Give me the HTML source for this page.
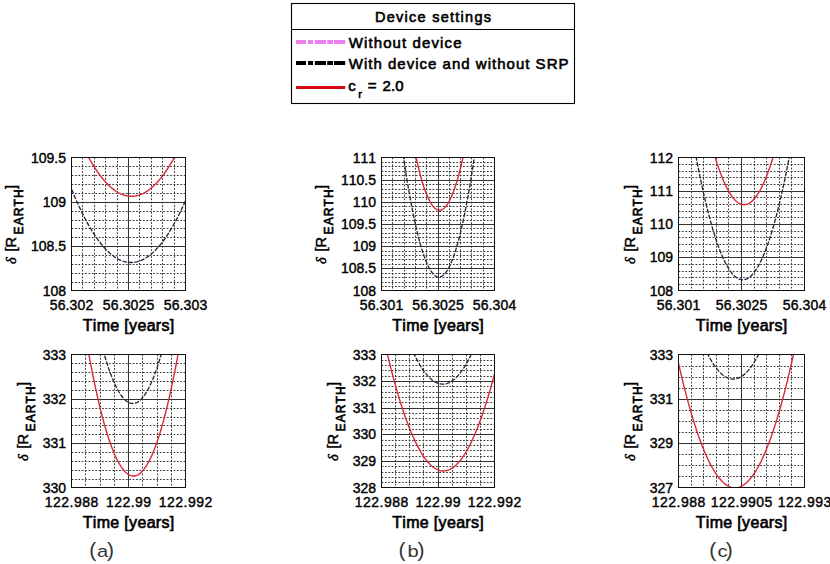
<!DOCTYPE html><html><head><meta charset="utf-8"><style>html,body{margin:0;padding:0;background:#fff;width:830px;height:564px;overflow:hidden}svg{display:block}text{font-family:"Liberation Sans",sans-serif;font-kerning:none}</style></head><body>
<svg width="830" height="564" viewBox="0 0 830 564">
<rect width="830" height="564" fill="#fff"/>
<g>
<rect x="291.5" y="3.5" width="283" height="100" fill="#fff" stroke="#000" stroke-width="1.1"/>
<line x1="291.5" y1="29.5" x2="574.5" y2="29.5" stroke="#000" stroke-width="1.1"/>
<text x="433" y="22.3" font-size="14.5" stroke="#000" stroke-width="0.6" text-anchor="middle" textLength="116" lengthAdjust="spacing">Device settings</text>
<rect x="296" y="40" width="10.0" height="4" fill="#f07ef0"/>
<rect x="308" y="40" width="5.0" height="4" fill="#f07ef0"/>
<rect x="314.8" y="40" width="11.2" height="4" fill="#f07ef0"/>
<rect x="327.2" y="40" width="5.8" height="4" fill="#f07ef0"/>
<rect x="334" y="40" width="11.2" height="4" fill="#f07ef0"/>
<rect x="296" y="61" width="10.0" height="4" fill="#000"/>
<rect x="308" y="61" width="5.0" height="4" fill="#000"/>
<rect x="314.8" y="61" width="11.2" height="4" fill="#000"/>
<rect x="327.2" y="61" width="5.8" height="4" fill="#000"/>
<rect x="334" y="61" width="11.2" height="4" fill="#000"/>
<rect x="296" y="86" width="49.2" height="3" fill="#dc0a14"/>
<text x="348.7" y="48" font-size="15" stroke="#000" stroke-width="0.6" textLength="112.8" lengthAdjust="spacing">Without device</text>
<text x="348.7" y="69.2" font-size="15" stroke="#000" stroke-width="0.6" textLength="219.8" lengthAdjust="spacing">With device and without SRP</text>
<g font-size="15" stroke="#000" stroke-width="0.6"><text x="348.3" y="91.3">c</text><text x="358.3" y="98.4" font-size="11">r</text><text x="367.8" y="91.3">=</text><text x="382.5" y="91.3" textLength="21" lengthAdjust="spacing">2.0</text></g>
</g>
<clipPath id="c0"><rect x="71.5" y="157.5" width="114.0" height="133.0"/></clipPath>
<path d="M82.50 157.5V290.5M94.50 157.5V290.5M105.50 157.5V290.5M117.50 157.5V290.5M139.50 157.5V290.5M151.50 157.5V290.5M162.50 157.5V290.5M174.50 157.5V290.5M71.5 166.50H185.5M71.5 175.50H185.5M71.5 184.50H185.5M71.5 193.50H185.5M71.5 211.50H185.5M71.5 220.50H185.5M71.5 228.50H185.5M71.5 237.50H185.5M71.5 255.50H185.5M71.5 264.50H185.5M71.5 273.50H185.5M71.5 282.50H185.5" stroke="#3a3a3a" stroke-width="1" stroke-dasharray="1.8 1.6" fill="none"/>
<path d="M128.50 157.5V290.5M71.5 202.50H185.5M71.5 246.50H185.5" stroke="#333" stroke-width="1" fill="none"/>
<g clip-path="url(#c0)">
<path d="M69.50,183.83 L70.48,186.32 L71.47,188.78 L72.45,191.20 L73.43,193.57 L74.42,195.91 L75.40,198.20 L76.38,200.45 L77.37,202.67 L78.35,204.84 L79.33,206.98 L80.32,209.07 L81.30,211.12 L82.28,213.14 L83.27,215.11 L84.25,217.04 L85.23,218.93 L86.22,220.78 L87.20,222.60 L88.18,224.37 L89.17,226.10 L90.15,227.79 L91.13,229.44 L92.12,231.05 L93.10,232.62 L94.08,234.15 L95.07,235.64 L96.05,237.09 L97.03,238.50 L98.02,239.87 L99.00,241.20 L99.98,242.49 L100.97,243.74 L101.95,244.95 L102.93,246.12 L103.92,247.24 L104.90,248.33 L105.88,249.38 L106.87,250.39 L107.85,251.35 L108.83,252.28 L109.82,253.17 L110.80,254.01 L111.78,254.82 L112.77,255.58 L113.75,256.31 L114.73,257.00 L115.72,257.64 L116.70,258.25 L117.68,258.81 L118.67,259.34 L119.65,259.82 L120.63,260.26 L121.62,260.67 L122.60,261.03 L123.58,261.36 L124.57,261.64 L125.55,261.88 L126.53,262.09 L127.52,262.25 L128.50,262.37 L129.48,262.45 L130.47,262.49 L131.45,262.50 L132.43,262.46 L133.42,262.38 L134.40,262.26 L135.38,262.10 L136.37,261.90 L137.35,261.66 L138.33,261.38 L139.32,261.06 L140.30,260.70 L141.28,260.30 L142.27,259.86 L143.25,259.38 L144.23,258.86 L145.22,258.30 L146.20,257.69 L147.18,257.05 L148.17,256.37 L149.15,255.65 L150.13,254.89 L151.12,254.08 L152.10,253.24 L153.08,252.36 L154.07,251.43 L155.05,250.47 L156.03,249.47 L157.02,248.42 L158.00,247.34 L158.98,246.21 L159.97,245.05 L160.95,243.84 L161.93,242.60 L162.92,241.31 L163.90,239.99 L164.88,238.62 L165.87,237.21 L166.85,235.77 L167.83,234.28 L168.82,232.75 L169.80,231.19 L170.78,229.58 L171.77,227.93 L172.75,226.24 L173.73,224.52 L174.72,222.75 L175.70,220.94 L176.68,219.09 L177.67,217.20 L178.65,215.27 L179.63,213.30 L180.62,211.29 L181.60,209.24 L182.58,207.15 L183.57,205.02 L184.55,202.85 L185.53,200.64 L186.52,198.39 L187.50,196.10" stroke="#e070e0" stroke-width="1.3" fill="none" stroke-opacity="0.12"/>
<path d="M69.50,183.83 L70.48,186.32 L71.47,188.78 L72.45,191.20 L73.43,193.57 L74.42,195.91 L75.40,198.20 L76.38,200.45 L77.37,202.67 L78.35,204.84 L79.33,206.98 L80.32,209.07 L81.30,211.12 L82.28,213.14 L83.27,215.11 L84.25,217.04 L85.23,218.93 L86.22,220.78 L87.20,222.60 L88.18,224.37 L89.17,226.10 L90.15,227.79 L91.13,229.44 L92.12,231.05 L93.10,232.62 L94.08,234.15 L95.07,235.64 L96.05,237.09 L97.03,238.50 L98.02,239.87 L99.00,241.20 L99.98,242.49 L100.97,243.74 L101.95,244.95 L102.93,246.12 L103.92,247.24 L104.90,248.33 L105.88,249.38 L106.87,250.39 L107.85,251.35 L108.83,252.28 L109.82,253.17 L110.80,254.01 L111.78,254.82 L112.77,255.58 L113.75,256.31 L114.73,257.00 L115.72,257.64 L116.70,258.25 L117.68,258.81 L118.67,259.34 L119.65,259.82 L120.63,260.26 L121.62,260.67 L122.60,261.03 L123.58,261.36 L124.57,261.64 L125.55,261.88 L126.53,262.09 L127.52,262.25 L128.50,262.37 L129.48,262.45 L130.47,262.49 L131.45,262.50 L132.43,262.46 L133.42,262.38 L134.40,262.26 L135.38,262.10 L136.37,261.90 L137.35,261.66 L138.33,261.38 L139.32,261.06 L140.30,260.70 L141.28,260.30 L142.27,259.86 L143.25,259.38 L144.23,258.86 L145.22,258.30 L146.20,257.69 L147.18,257.05 L148.17,256.37 L149.15,255.65 L150.13,254.89 L151.12,254.08 L152.10,253.24 L153.08,252.36 L154.07,251.43 L155.05,250.47 L156.03,249.47 L157.02,248.42 L158.00,247.34 L158.98,246.21 L159.97,245.05 L160.95,243.84 L161.93,242.60 L162.92,241.31 L163.90,239.99 L164.88,238.62 L165.87,237.21 L166.85,235.77 L167.83,234.28 L168.82,232.75 L169.80,231.19 L170.78,229.58 L171.77,227.93 L172.75,226.24 L173.73,224.52 L174.72,222.75 L175.70,220.94 L176.68,219.09 L177.67,217.20 L178.65,215.27 L179.63,213.30 L180.62,211.29 L181.60,209.24 L182.58,207.15 L183.57,205.02 L184.55,202.85 L185.53,200.64 L186.52,198.39 L187.50,196.10" stroke="#2a1e36" stroke-width="1.3" fill="none" stroke-dasharray="4.5 1.5"/>
<path d="M69.50,114.81 L70.48,117.37 L71.47,119.90 L72.45,122.38 L73.43,124.82 L74.42,127.22 L75.40,129.58 L76.38,131.90 L77.37,134.18 L78.35,136.41 L79.33,138.61 L80.32,140.76 L81.30,142.88 L82.28,144.95 L83.27,146.98 L84.25,148.97 L85.23,150.92 L86.22,152.83 L87.20,154.70 L88.18,156.52 L89.17,158.31 L90.15,160.05 L91.13,161.76 L92.12,163.42 L93.10,165.04 L94.08,166.62 L95.07,168.16 L96.05,169.66 L97.03,171.12 L98.02,172.53 L99.00,173.91 L99.98,175.24 L100.97,176.54 L101.95,177.79 L102.93,179.00 L103.92,180.17 L104.90,181.30 L105.88,182.39 L106.87,183.44 L107.85,184.44 L108.83,185.41 L109.82,186.33 L110.80,187.22 L111.78,188.06 L112.77,188.86 L113.75,189.62 L114.73,190.34 L115.72,191.02 L116.70,191.66 L117.68,192.25 L118.67,192.81 L119.65,193.32 L120.63,193.80 L121.62,194.23 L122.60,194.62 L123.58,194.97 L124.57,195.28 L125.55,195.55 L126.53,195.78 L127.52,195.96 L128.50,196.11 L129.48,196.21 L130.47,196.28 L131.45,196.30 L132.43,196.28 L133.42,196.22 L134.40,196.12 L135.38,195.98 L136.37,195.80 L137.35,195.57 L138.33,195.31 L139.32,195.00 L140.30,194.66 L141.28,194.27 L142.27,193.84 L143.25,193.37 L144.23,192.86 L145.22,192.31 L146.20,191.72 L147.18,191.09 L148.17,190.41 L149.15,189.70 L150.13,188.94 L151.12,188.14 L152.10,187.30 L153.08,186.42 L154.07,185.50 L155.05,184.54 L156.03,183.54 L157.02,182.50 L158.00,181.41 L158.98,180.29 L159.97,179.12 L160.95,177.91 L161.93,176.66 L162.92,175.38 L163.90,174.05 L164.88,172.67 L165.87,171.26 L166.85,169.81 L167.83,168.31 L168.82,166.78 L169.80,165.20 L170.78,163.58 L171.77,161.93 L172.75,160.23 L173.73,158.49 L174.72,156.71 L175.70,154.88 L176.68,153.02 L177.67,151.12 L178.65,149.17 L179.63,147.18 L180.62,145.16 L181.60,143.09 L182.58,140.98 L183.57,138.83 L184.55,136.64 L185.53,134.40 L186.52,132.13 L187.50,129.82" stroke="#d8283a" stroke-width="1.4" fill="none"/>
</g>
<rect x="71.5" y="157.5" width="114.0" height="133.0" fill="none" stroke="#111" stroke-width="1"/>
<text x="71.5" y="310.0" font-size="14" stroke="#000" stroke-width="0.4" text-anchor="middle" textLength="43.5" lengthAdjust="spacing">56.302</text>
<text x="128.5" y="310.0" font-size="14" stroke="#000" stroke-width="0.4" text-anchor="middle" textLength="51.4" lengthAdjust="spacing">56.3025</text>
<text x="185.5" y="310.0" font-size="14" stroke="#000" stroke-width="0.4" text-anchor="middle" textLength="43.5" lengthAdjust="spacing">56.303</text>
<text x="66.0" y="162.5" font-size="14" stroke="#000" stroke-width="0.4" text-anchor="end">109.5</text>
<text x="66.0" y="206.8" font-size="14" stroke="#000" stroke-width="0.4" text-anchor="end">109</text>
<text x="66.0" y="251.2" font-size="14" stroke="#000" stroke-width="0.4" text-anchor="end">108.5</text>
<text x="66.0" y="295.5" font-size="14" stroke="#000" stroke-width="0.4" text-anchor="end">108</text>
<text x="128.5" y="330.8" font-size="16" stroke="#000" stroke-width="0.65" text-anchor="middle" textLength="91.5" lengthAdjust="spacing">Time [years]</text>
<g transform="translate(15.60,264.00) rotate(-90)" stroke="#000" stroke-width="0.45"><text x="0.1" y="0" font-size="14.5" font-style="italic" style="font-family:'Liberation Serif',serif">δ</text><text x="12.6" y="0" font-size="14.5">[R</text><text x="29.6" y="7.5" font-size="12" stroke-width="0.7" textLength="45" lengthAdjust="spacing">EARTH</text><text x="74.9" y="0" font-size="14.5">]</text></g>
<clipPath id="c1"><rect x="381.5" y="157.5" width="113.0" height="133.0"/></clipPath>
<path d="M392.50 157.5V290.5M404.50 157.5V290.5M415.50 157.5V290.5M426.50 157.5V290.5M449.50 157.5V290.5M460.50 157.5V290.5M471.50 157.5V290.5M483.50 157.5V290.5M381.5 162.50H494.5M381.5 166.50H494.5M381.5 171.50H494.5M381.5 175.50H494.5M381.5 184.50H494.5M381.5 189.50H494.5M381.5 193.50H494.5M381.5 197.50H494.5M381.5 206.50H494.5M381.5 211.50H494.5M381.5 215.50H494.5M381.5 220.50H494.5M381.5 228.50H494.5M381.5 233.50H494.5M381.5 237.50H494.5M381.5 242.50H494.5M381.5 251.50H494.5M381.5 255.50H494.5M381.5 259.50H494.5M381.5 264.50H494.5M381.5 273.50H494.5M381.5 277.50H494.5M381.5 282.50H494.5M381.5 286.50H494.5" stroke="#3a3a3a" stroke-width="1" stroke-dasharray="1.8 1.6" fill="none"/>
<path d="M438.50 157.5V290.5M381.5 180.50H494.5M381.5 202.50H494.5M381.5 224.50H494.5M381.5 246.50H494.5M381.5 268.50H494.5" stroke="#333" stroke-width="1" fill="none"/>
<g clip-path="url(#c1)">
<path d="M379.50,-60.21 L380.48,-49.23 L381.45,-38.43 L382.43,-27.81 L383.40,-17.37 L384.38,-7.12 L385.35,2.96 L386.32,12.85 L387.30,22.56 L388.27,32.09 L389.25,41.43 L390.23,50.60 L391.20,59.58 L392.18,68.38 L393.15,77.00 L394.12,85.44 L395.10,93.70 L396.07,101.77 L397.05,109.66 L398.02,117.37 L399.00,124.90 L399.98,132.25 L400.95,139.42 L401.93,146.40 L402.90,153.20 L403.88,159.82 L404.85,166.26 L405.82,172.52 L406.80,178.59 L407.77,184.49 L408.75,190.20 L409.73,195.73 L410.70,201.08 L411.68,206.24 L412.65,211.23 L413.62,216.03 L414.60,220.65 L415.57,225.09 L416.55,229.35 L417.52,233.42 L418.50,237.32 L419.48,241.03 L420.45,244.56 L421.43,247.91 L422.40,251.07 L423.38,254.06 L424.35,256.86 L425.32,259.48 L426.30,261.92 L427.27,264.18 L428.25,266.26 L429.23,268.15 L430.20,269.86 L431.18,271.40 L432.15,272.74 L433.12,273.91 L434.10,274.90 L435.07,275.70 L436.05,276.32 L437.02,276.76 L438.00,277.02 L438.98,277.10 L439.95,276.99 L440.93,276.71 L441.90,276.24 L442.88,275.59 L443.85,274.76 L444.82,273.74 L445.80,272.55 L446.77,271.17 L447.75,269.61 L448.73,267.87 L449.70,265.95 L450.68,263.85 L451.65,261.56 L452.62,259.09 L453.60,256.44 L454.57,253.61 L455.55,250.60 L456.52,247.40 L457.50,244.03 L458.48,240.47 L459.45,236.73 L460.43,232.81 L461.40,228.70 L462.38,224.42 L463.35,219.95 L464.32,215.30 L465.30,210.47 L466.27,205.46 L467.25,200.26 L468.23,194.89 L469.20,189.33 L470.18,183.59 L471.15,177.67 L472.12,171.57 L473.10,165.28 L474.07,158.82 L475.05,152.17 L476.02,145.34 L477.00,138.33 L477.98,131.13 L478.95,123.76 L479.93,116.20 L480.90,108.46 L481.88,100.54 L482.85,92.44 L483.82,84.15 L484.80,75.69 L485.77,67.04 L486.75,58.21 L487.73,49.20 L488.70,40.01 L489.68,30.63 L490.65,21.08 L491.62,11.34 L492.60,1.42 L493.57,-8.68 L494.55,-18.97 L495.52,-29.43 L496.50,-40.08" stroke="#e070e0" stroke-width="1.3" fill="none" stroke-opacity="0.12"/>
<path d="M379.50,-60.21 L380.48,-49.23 L381.45,-38.43 L382.43,-27.81 L383.40,-17.37 L384.38,-7.12 L385.35,2.96 L386.32,12.85 L387.30,22.56 L388.27,32.09 L389.25,41.43 L390.23,50.60 L391.20,59.58 L392.18,68.38 L393.15,77.00 L394.12,85.44 L395.10,93.70 L396.07,101.77 L397.05,109.66 L398.02,117.37 L399.00,124.90 L399.98,132.25 L400.95,139.42 L401.93,146.40 L402.90,153.20 L403.88,159.82 L404.85,166.26 L405.82,172.52 L406.80,178.59 L407.77,184.49 L408.75,190.20 L409.73,195.73 L410.70,201.08 L411.68,206.24 L412.65,211.23 L413.62,216.03 L414.60,220.65 L415.57,225.09 L416.55,229.35 L417.52,233.42 L418.50,237.32 L419.48,241.03 L420.45,244.56 L421.43,247.91 L422.40,251.07 L423.38,254.06 L424.35,256.86 L425.32,259.48 L426.30,261.92 L427.27,264.18 L428.25,266.26 L429.23,268.15 L430.20,269.86 L431.18,271.40 L432.15,272.74 L433.12,273.91 L434.10,274.90 L435.07,275.70 L436.05,276.32 L437.02,276.76 L438.00,277.02 L438.98,277.10 L439.95,276.99 L440.93,276.71 L441.90,276.24 L442.88,275.59 L443.85,274.76 L444.82,273.74 L445.80,272.55 L446.77,271.17 L447.75,269.61 L448.73,267.87 L449.70,265.95 L450.68,263.85 L451.65,261.56 L452.62,259.09 L453.60,256.44 L454.57,253.61 L455.55,250.60 L456.52,247.40 L457.50,244.03 L458.48,240.47 L459.45,236.73 L460.43,232.81 L461.40,228.70 L462.38,224.42 L463.35,219.95 L464.32,215.30 L465.30,210.47 L466.27,205.46 L467.25,200.26 L468.23,194.89 L469.20,189.33 L470.18,183.59 L471.15,177.67 L472.12,171.57 L473.10,165.28 L474.07,158.82 L475.05,152.17 L476.02,145.34 L477.00,138.33 L477.98,131.13 L478.95,123.76 L479.93,116.20 L480.90,108.46 L481.88,100.54 L482.85,92.44 L483.82,84.15 L484.80,75.69 L485.77,67.04 L486.75,58.21 L487.73,49.20 L488.70,40.01 L489.68,30.63 L490.65,21.08 L491.62,11.34 L492.60,1.42 L493.57,-8.68 L494.55,-18.97 L495.52,-29.43 L496.50,-40.08" stroke="#2a1e36" stroke-width="1.3" fill="none" stroke-dasharray="4.5 1.5"/>
<path d="M379.50,-135.30 L380.48,-124.16 L381.45,-113.20 L382.43,-102.43 L383.40,-91.83 L384.38,-81.42 L385.35,-71.19 L386.32,-61.15 L387.30,-51.28 L388.27,-41.60 L389.25,-32.11 L390.23,-22.79 L391.20,-13.66 L392.18,-4.71 L393.15,4.06 L394.12,12.65 L395.10,21.05 L396.07,29.27 L397.05,37.31 L398.02,45.16 L399.00,52.84 L399.98,60.33 L400.95,67.63 L401.93,74.76 L402.90,81.70 L403.88,88.46 L404.85,95.04 L405.82,101.44 L406.80,107.65 L407.77,113.68 L408.75,119.53 L409.73,125.19 L410.70,130.67 L411.68,135.97 L412.65,141.09 L413.62,146.03 L414.60,150.78 L415.57,155.35 L416.55,159.74 L417.52,163.94 L418.50,167.96 L419.48,171.80 L420.45,175.46 L421.43,178.94 L422.40,182.23 L423.38,185.34 L424.35,188.27 L425.32,191.01 L426.30,193.57 L427.27,195.95 L428.25,198.15 L429.23,200.16 L430.20,202.00 L431.18,203.65 L432.15,205.11 L433.12,206.40 L434.10,207.50 L435.07,208.42 L436.05,209.16 L437.02,209.71 L438.00,210.08 L438.98,210.27 L439.95,210.28 L440.93,210.11 L441.90,209.75 L442.88,209.21 L443.85,208.48 L444.82,207.58 L445.80,206.49 L446.77,205.22 L447.75,203.77 L448.73,202.13 L449.70,200.31 L450.68,198.31 L451.65,196.13 L452.62,193.76 L453.60,191.21 L454.57,188.48 L455.55,185.57 L456.52,182.47 L457.50,179.20 L458.48,175.74 L459.45,172.09 L460.43,168.27 L461.40,164.26 L462.38,160.07 L463.35,155.69 L464.32,151.14 L465.30,146.40 L466.27,141.48 L467.25,136.37 L468.23,131.09 L469.20,125.62 L470.18,119.97 L471.15,114.13 L472.12,108.12 L473.10,101.92 L474.07,95.54 L475.05,88.97 L476.02,82.23 L477.00,75.30 L477.98,68.19 L478.95,60.89 L479.93,53.42 L480.90,45.76 L481.88,37.92 L482.85,29.89 L483.82,21.69 L484.80,13.30 L485.77,4.73 L486.75,-4.03 L487.73,-12.96 L488.70,-22.08 L489.68,-31.38 L490.65,-40.87 L491.62,-50.53 L492.60,-60.38 L493.57,-70.41 L494.55,-80.63 L495.52,-91.02 L496.50,-101.60" stroke="#d8283a" stroke-width="1.4" fill="none"/>
</g>
<rect x="381.5" y="157.5" width="113.0" height="133.0" fill="none" stroke="#111" stroke-width="1"/>
<text x="381.5" y="310.0" font-size="14" stroke="#000" stroke-width="0.4" text-anchor="middle" textLength="43.5" lengthAdjust="spacing">56.301</text>
<text x="438.0" y="310.0" font-size="14" stroke="#000" stroke-width="0.4" text-anchor="middle" textLength="51.4" lengthAdjust="spacing">56.3025</text>
<text x="494.5" y="310.0" font-size="14" stroke="#000" stroke-width="0.4" text-anchor="middle" textLength="43.5" lengthAdjust="spacing">56.304</text>
<text x="376.0" y="162.5" font-size="14" stroke="#000" stroke-width="0.4" text-anchor="end">111</text>
<text x="376.0" y="184.7" font-size="14" stroke="#000" stroke-width="0.4" text-anchor="end">110.5</text>
<text x="376.0" y="206.8" font-size="14" stroke="#000" stroke-width="0.4" text-anchor="end">110</text>
<text x="376.0" y="229.0" font-size="14" stroke="#000" stroke-width="0.4" text-anchor="end">109.5</text>
<text x="376.0" y="251.2" font-size="14" stroke="#000" stroke-width="0.4" text-anchor="end">109</text>
<text x="376.0" y="273.3" font-size="14" stroke="#000" stroke-width="0.4" text-anchor="end">108.5</text>
<text x="376.0" y="295.5" font-size="14" stroke="#000" stroke-width="0.4" text-anchor="end">108</text>
<text x="438.0" y="330.8" font-size="16" stroke="#000" stroke-width="0.65" text-anchor="middle" textLength="91.5" lengthAdjust="spacing">Time [years]</text>
<g transform="translate(325.60,264.00) rotate(-90)" stroke="#000" stroke-width="0.45"><text x="0.1" y="0" font-size="14.5" font-style="italic" style="font-family:'Liberation Serif',serif">δ</text><text x="12.6" y="0" font-size="14.5">[R</text><text x="29.6" y="7.5" font-size="12" stroke-width="0.7" textLength="45" lengthAdjust="spacing">EARTH</text><text x="74.9" y="0" font-size="14.5">]</text></g>
<clipPath id="c2"><rect x="678.5" y="157.5" width="126.0" height="133.0"/></clipPath>
<path d="M691.50 157.5V290.5M703.50 157.5V290.5M716.50 157.5V290.5M728.50 157.5V290.5M754.50 157.5V290.5M766.50 157.5V290.5M779.50 157.5V290.5M791.50 157.5V290.5M678.5 164.50H804.5M678.5 171.50H804.5M678.5 177.50H804.5M678.5 184.50H804.5M678.5 197.50H804.5M678.5 204.50H804.5M678.5 211.50H804.5M678.5 217.50H804.5M678.5 231.50H804.5M678.5 237.50H804.5M678.5 244.50H804.5M678.5 251.50H804.5M678.5 264.50H804.5M678.5 271.50H804.5M678.5 277.50H804.5M678.5 284.50H804.5" stroke="#3a3a3a" stroke-width="1" stroke-dasharray="1.8 1.6" fill="none"/>
<path d="M741.50 157.5V290.5M678.5 191.50H804.5M678.5 224.50H804.5M678.5 257.50H804.5" stroke="#333" stroke-width="1" fill="none"/>
<g clip-path="url(#c2)">
<path d="M676.50,31.75 L677.58,39.81 L678.67,47.72 L679.75,55.51 L680.83,63.16 L681.92,70.68 L683.00,78.07 L684.08,85.33 L685.17,92.45 L686.25,99.44 L687.33,106.29 L688.42,113.02 L689.50,119.61 L690.58,126.07 L691.67,132.39 L692.75,138.58 L693.83,144.64 L694.92,150.57 L696.00,156.36 L697.08,162.02 L698.17,167.55 L699.25,172.94 L700.33,178.21 L701.42,183.34 L702.50,188.33 L703.58,193.20 L704.67,197.93 L705.75,202.52 L706.83,206.99 L707.92,211.32 L709.00,215.52 L710.08,219.59 L711.17,223.52 L712.25,227.32 L713.33,230.99 L714.42,234.52 L715.50,237.93 L716.58,241.19 L717.67,244.33 L718.75,247.33 L719.83,250.20 L720.92,252.94 L722.00,255.55 L723.08,258.02 L724.17,260.36 L725.25,262.57 L726.33,264.64 L727.42,266.58 L728.50,268.39 L729.58,270.06 L730.67,271.60 L731.75,273.01 L732.83,274.29 L733.92,275.43 L735.00,276.44 L736.08,277.32 L737.17,278.07 L738.25,278.68 L739.33,279.16 L740.42,279.50 L741.50,279.72 L742.58,279.80 L743.67,279.75 L744.75,279.56 L745.83,279.24 L746.92,278.79 L748.00,278.21 L749.08,277.49 L750.17,276.64 L751.25,275.66 L752.33,274.55 L753.42,273.30 L754.50,271.92 L755.58,270.41 L756.67,268.76 L757.75,266.98 L758.83,265.07 L759.92,263.02 L761.00,260.85 L762.08,258.53 L763.17,256.09 L764.25,253.51 L765.33,250.81 L766.42,247.96 L767.50,244.99 L768.58,241.88 L769.67,238.64 L770.75,235.27 L771.83,231.76 L772.92,228.12 L774.00,224.35 L775.08,220.44 L776.17,216.41 L777.25,212.24 L778.33,207.93 L779.42,203.50 L780.50,198.93 L781.58,194.23 L782.67,189.39 L783.75,184.42 L784.83,179.32 L785.92,174.09 L787.00,168.72 L788.08,163.22 L789.17,157.59 L790.25,151.83 L791.33,145.93 L792.42,139.90 L793.50,133.74 L794.58,127.44 L795.67,121.01 L796.75,114.45 L797.83,107.75 L798.92,100.93 L800.00,93.97 L801.08,86.87 L802.17,79.65 L803.25,72.29 L804.33,64.80 L805.42,57.17 L806.50,49.41" stroke="#e070e0" stroke-width="1.3" fill="none" stroke-opacity="0.12"/>
<path d="M676.50,31.75 L677.58,39.81 L678.67,47.72 L679.75,55.51 L680.83,63.16 L681.92,70.68 L683.00,78.07 L684.08,85.33 L685.17,92.45 L686.25,99.44 L687.33,106.29 L688.42,113.02 L689.50,119.61 L690.58,126.07 L691.67,132.39 L692.75,138.58 L693.83,144.64 L694.92,150.57 L696.00,156.36 L697.08,162.02 L698.17,167.55 L699.25,172.94 L700.33,178.21 L701.42,183.34 L702.50,188.33 L703.58,193.20 L704.67,197.93 L705.75,202.52 L706.83,206.99 L707.92,211.32 L709.00,215.52 L710.08,219.59 L711.17,223.52 L712.25,227.32 L713.33,230.99 L714.42,234.52 L715.50,237.93 L716.58,241.19 L717.67,244.33 L718.75,247.33 L719.83,250.20 L720.92,252.94 L722.00,255.55 L723.08,258.02 L724.17,260.36 L725.25,262.57 L726.33,264.64 L727.42,266.58 L728.50,268.39 L729.58,270.06 L730.67,271.60 L731.75,273.01 L732.83,274.29 L733.92,275.43 L735.00,276.44 L736.08,277.32 L737.17,278.07 L738.25,278.68 L739.33,279.16 L740.42,279.50 L741.50,279.72 L742.58,279.80 L743.67,279.75 L744.75,279.56 L745.83,279.24 L746.92,278.79 L748.00,278.21 L749.08,277.49 L750.17,276.64 L751.25,275.66 L752.33,274.55 L753.42,273.30 L754.50,271.92 L755.58,270.41 L756.67,268.76 L757.75,266.98 L758.83,265.07 L759.92,263.02 L761.00,260.85 L762.08,258.53 L763.17,256.09 L764.25,253.51 L765.33,250.81 L766.42,247.96 L767.50,244.99 L768.58,241.88 L769.67,238.64 L770.75,235.27 L771.83,231.76 L772.92,228.12 L774.00,224.35 L775.08,220.44 L776.17,216.41 L777.25,212.24 L778.33,207.93 L779.42,203.50 L780.50,198.93 L781.58,194.23 L782.67,189.39 L783.75,184.42 L784.83,179.32 L785.92,174.09 L787.00,168.72 L788.08,163.22 L789.17,157.59 L790.25,151.83 L791.33,145.93 L792.42,139.90 L793.50,133.74 L794.58,127.44 L795.67,121.01 L796.75,114.45 L797.83,107.75 L798.92,100.93 L800.00,93.97 L801.08,86.87 L802.17,79.65 L803.25,72.29 L804.33,64.80 L805.42,57.17 L806.50,49.41" stroke="#2a1e36" stroke-width="1.3" fill="none" stroke-dasharray="4.5 1.5"/>
<path d="M676.50,-53.49 L677.58,-45.28 L678.67,-37.21 L679.75,-29.26 L680.83,-21.45 L681.92,-13.77 L683.00,-6.23 L684.08,1.19 L685.17,8.47 L686.25,15.62 L687.33,22.63 L688.42,29.51 L689.50,36.26 L690.58,42.88 L691.67,49.37 L692.75,55.72 L693.83,61.94 L694.92,68.03 L696.00,73.98 L697.08,79.80 L698.17,85.49 L699.25,91.05 L700.33,96.47 L701.42,101.76 L702.50,106.92 L703.58,111.95 L704.67,116.84 L705.75,121.60 L706.83,126.23 L707.92,130.73 L709.00,135.09 L710.08,139.32 L711.17,143.42 L712.25,147.39 L713.33,151.22 L714.42,154.92 L715.50,158.49 L716.58,161.92 L717.67,165.22 L718.75,168.39 L719.83,171.43 L720.92,174.33 L722.00,177.10 L723.08,179.74 L724.17,182.25 L725.25,184.62 L726.33,186.87 L727.42,188.97 L728.50,190.95 L729.58,192.79 L730.67,194.50 L731.75,196.08 L732.83,197.53 L733.92,198.84 L735.00,200.02 L736.08,201.07 L737.17,201.98 L738.25,202.77 L739.33,203.42 L740.42,203.93 L741.50,204.32 L742.58,204.57 L743.67,204.69 L744.75,204.68 L745.83,204.53 L746.92,204.25 L748.00,203.84 L749.08,203.30 L750.17,202.62 L751.25,201.81 L752.33,200.87 L753.42,199.80 L754.50,198.59 L755.58,197.25 L756.67,195.78 L757.75,194.17 L758.83,192.44 L759.92,190.57 L761.00,188.56 L762.08,186.43 L763.17,184.16 L764.25,181.76 L765.33,179.23 L766.42,176.56 L767.50,173.76 L768.58,170.83 L769.67,167.77 L770.75,164.57 L771.83,161.24 L772.92,157.78 L774.00,154.19 L775.08,150.46 L776.17,146.60 L777.25,142.61 L778.33,138.49 L779.42,134.23 L780.50,129.84 L781.58,125.32 L782.67,120.66 L783.75,115.88 L784.83,110.95 L785.92,105.90 L787.00,100.72 L788.08,95.40 L789.17,89.95 L790.25,84.37 L791.33,78.65 L792.42,72.80 L793.50,66.82 L794.58,60.71 L795.67,54.46 L796.75,48.08 L797.83,41.57 L798.92,34.93 L800.00,28.15 L801.08,21.24 L802.17,14.20 L803.25,7.02 L804.33,-0.29 L805.42,-7.72 L806.50,-15.30" stroke="#d8283a" stroke-width="1.4" fill="none"/>
</g>
<rect x="678.5" y="157.5" width="126.0" height="133.0" fill="none" stroke="#111" stroke-width="1"/>
<text x="678.5" y="310.0" font-size="14" stroke="#000" stroke-width="0.4" text-anchor="middle" textLength="43.5" lengthAdjust="spacing">56.301</text>
<text x="741.5" y="310.0" font-size="14" stroke="#000" stroke-width="0.4" text-anchor="middle" textLength="51.4" lengthAdjust="spacing">56.3025</text>
<text x="804.5" y="310.0" font-size="14" stroke="#000" stroke-width="0.4" text-anchor="middle" textLength="43.5" lengthAdjust="spacing">56.304</text>
<text x="673.0" y="162.5" font-size="14" stroke="#000" stroke-width="0.4" text-anchor="end">112</text>
<text x="673.0" y="195.8" font-size="14" stroke="#000" stroke-width="0.4" text-anchor="end">111</text>
<text x="673.0" y="229.0" font-size="14" stroke="#000" stroke-width="0.4" text-anchor="end">110</text>
<text x="673.0" y="262.2" font-size="14" stroke="#000" stroke-width="0.4" text-anchor="end">109</text>
<text x="673.0" y="295.5" font-size="14" stroke="#000" stroke-width="0.4" text-anchor="end">108</text>
<text x="741.5" y="330.8" font-size="16" stroke="#000" stroke-width="0.65" text-anchor="middle" textLength="91.5" lengthAdjust="spacing">Time [years]</text>
<g transform="translate(634.80,264.00) rotate(-90)" stroke="#000" stroke-width="0.45"><text x="0.1" y="0" font-size="14.5" font-style="italic" style="font-family:'Liberation Serif',serif">δ</text><text x="12.6" y="0" font-size="14.5">[R</text><text x="29.6" y="7.5" font-size="12" stroke-width="0.7" textLength="45" lengthAdjust="spacing">EARTH</text><text x="74.9" y="0" font-size="14.5">]</text></g>
<clipPath id="c3"><rect x="71.5" y="354.5" width="114.0" height="133.0"/></clipPath>
<path d="M85.50 354.5V487.5M100.50 354.5V487.5M114.50 354.5V487.5M142.50 354.5V487.5M157.50 354.5V487.5M171.50 354.5V487.5M71.5 363.50H185.5M71.5 372.50H185.5M71.5 381.50H185.5M71.5 390.50H185.5M71.5 408.50H185.5M71.5 417.50H185.5M71.5 425.50H185.5M71.5 434.50H185.5M71.5 452.50H185.5M71.5 461.50H185.5M71.5 470.50H185.5M71.5 479.50H185.5" stroke="#3a3a3a" stroke-width="1" stroke-dasharray="1.8 1.6" fill="none"/>
<path d="M128.50 354.5V487.5M71.5 399.50H185.5M71.5 443.50H185.5" stroke="#333" stroke-width="1" fill="none"/>
<g clip-path="url(#c3)">
<path d="M69.50,161.07 L70.48,168.55 L71.47,175.91 L72.45,183.15 L73.43,190.28 L74.42,197.29 L75.40,204.19 L76.38,210.96 L77.37,217.62 L78.35,224.16 L79.33,230.59 L80.32,236.90 L81.30,243.09 L82.28,249.16 L83.27,255.11 L84.25,260.95 L85.23,266.68 L86.22,272.28 L87.20,277.77 L88.18,283.14 L89.17,288.39 L90.15,293.53 L91.13,298.54 L92.12,303.45 L93.10,308.23 L94.08,312.90 L95.07,317.45 L96.05,321.88 L97.03,326.19 L98.02,330.39 L99.00,334.47 L99.98,338.44 L100.97,342.28 L101.95,346.01 L102.93,349.62 L103.92,353.12 L104.90,356.50 L105.88,359.76 L106.87,362.90 L107.85,365.93 L108.83,368.84 L109.82,371.63 L110.80,374.30 L111.78,376.86 L112.77,379.30 L113.75,381.62 L114.73,383.83 L115.72,385.92 L116.70,387.89 L117.68,389.74 L118.67,391.48 L119.65,393.10 L120.63,394.60 L121.62,395.99 L122.60,397.26 L123.58,398.41 L124.57,399.44 L125.55,400.36 L126.53,401.16 L127.52,401.84 L128.50,402.41 L129.48,402.85 L130.47,403.18 L131.45,403.40 L132.43,403.49 L133.42,403.47 L134.40,403.34 L135.38,403.08 L136.37,402.71 L137.35,402.22 L138.33,401.61 L139.32,400.89 L140.30,400.05 L141.28,399.09 L142.27,398.01 L143.25,396.82 L144.23,395.51 L145.22,394.08 L146.20,392.54 L147.18,390.88 L148.17,389.10 L149.15,387.20 L150.13,385.19 L151.12,383.06 L152.10,380.81 L153.08,378.45 L154.07,375.96 L155.05,373.36 L156.03,370.65 L157.02,367.81 L158.00,364.86 L158.98,361.80 L159.97,358.61 L160.95,355.31 L161.93,351.89 L162.92,348.35 L163.90,344.70 L164.88,340.93 L165.87,337.04 L166.85,333.03 L167.83,328.91 L168.82,324.67 L169.80,320.31 L170.78,315.84 L171.77,311.25 L172.75,306.54 L173.73,301.71 L174.72,296.77 L175.70,291.71 L176.68,286.53 L177.67,281.24 L178.65,275.83 L179.63,270.30 L180.62,264.65 L181.60,258.89 L182.58,253.01 L183.57,247.01 L184.55,240.90 L185.53,234.66 L186.52,228.31 L187.50,221.85" stroke="#e070e0" stroke-width="1.3" fill="none" stroke-opacity="0.12"/>
<path d="M69.50,161.07 L70.48,168.55 L71.47,175.91 L72.45,183.15 L73.43,190.28 L74.42,197.29 L75.40,204.19 L76.38,210.96 L77.37,217.62 L78.35,224.16 L79.33,230.59 L80.32,236.90 L81.30,243.09 L82.28,249.16 L83.27,255.11 L84.25,260.95 L85.23,266.68 L86.22,272.28 L87.20,277.77 L88.18,283.14 L89.17,288.39 L90.15,293.53 L91.13,298.54 L92.12,303.45 L93.10,308.23 L94.08,312.90 L95.07,317.45 L96.05,321.88 L97.03,326.19 L98.02,330.39 L99.00,334.47 L99.98,338.44 L100.97,342.28 L101.95,346.01 L102.93,349.62 L103.92,353.12 L104.90,356.50 L105.88,359.76 L106.87,362.90 L107.85,365.93 L108.83,368.84 L109.82,371.63 L110.80,374.30 L111.78,376.86 L112.77,379.30 L113.75,381.62 L114.73,383.83 L115.72,385.92 L116.70,387.89 L117.68,389.74 L118.67,391.48 L119.65,393.10 L120.63,394.60 L121.62,395.99 L122.60,397.26 L123.58,398.41 L124.57,399.44 L125.55,400.36 L126.53,401.16 L127.52,401.84 L128.50,402.41 L129.48,402.85 L130.47,403.18 L131.45,403.40 L132.43,403.49 L133.42,403.47 L134.40,403.34 L135.38,403.08 L136.37,402.71 L137.35,402.22 L138.33,401.61 L139.32,400.89 L140.30,400.05 L141.28,399.09 L142.27,398.01 L143.25,396.82 L144.23,395.51 L145.22,394.08 L146.20,392.54 L147.18,390.88 L148.17,389.10 L149.15,387.20 L150.13,385.19 L151.12,383.06 L152.10,380.81 L153.08,378.45 L154.07,375.96 L155.05,373.36 L156.03,370.65 L157.02,367.81 L158.00,364.86 L158.98,361.80 L159.97,358.61 L160.95,355.31 L161.93,351.89 L162.92,348.35 L163.90,344.70 L164.88,340.93 L165.87,337.04 L166.85,333.03 L167.83,328.91 L168.82,324.67 L169.80,320.31 L170.78,315.84 L171.77,311.25 L172.75,306.54 L173.73,301.71 L174.72,296.77 L175.70,291.71 L176.68,286.53 L177.67,281.24 L178.65,275.83 L179.63,270.30 L180.62,264.65 L181.60,258.89 L182.58,253.01 L183.57,247.01 L184.55,240.90 L185.53,234.66 L186.52,228.31 L187.50,221.85" stroke="#2a1e36" stroke-width="1.3" fill="none" stroke-dasharray="4.5 1.5"/>
<path d="M69.50,225.72 L70.48,233.35 L71.47,240.87 L72.45,248.27 L73.43,255.56 L74.42,262.72 L75.40,269.77 L76.38,276.70 L77.37,283.51 L78.35,290.20 L79.33,296.77 L80.32,303.22 L81.30,309.56 L82.28,315.78 L83.27,321.88 L84.25,327.86 L85.23,333.72 L86.22,339.46 L87.20,345.09 L88.18,350.60 L89.17,355.99 L90.15,361.26 L91.13,366.41 L92.12,371.44 L93.10,376.36 L94.08,381.16 L95.07,385.84 L96.05,390.40 L97.03,394.84 L98.02,399.16 L99.00,403.37 L99.98,407.45 L100.97,411.42 L101.95,415.27 L102.93,419.01 L103.92,422.62 L104.90,426.12 L105.88,429.49 L106.87,432.75 L107.85,435.89 L108.83,438.91 L109.82,441.82 L110.80,444.60 L111.78,447.27 L112.77,449.82 L113.75,452.25 L114.73,454.56 L115.72,456.75 L116.70,458.83 L117.68,460.79 L118.67,462.62 L119.65,464.35 L120.63,465.95 L121.62,467.43 L122.60,468.80 L123.58,470.04 L124.57,471.17 L125.55,472.18 L126.53,473.07 L127.52,473.85 L128.50,474.50 L129.48,475.04 L130.47,475.46 L131.45,475.76 L132.43,475.94 L133.42,476.00 L134.40,475.94 L135.38,475.77 L136.37,475.48 L137.35,475.07 L138.33,474.54 L139.32,473.89 L140.30,473.13 L141.28,472.24 L142.27,471.24 L143.25,470.12 L144.23,468.88 L145.22,467.53 L146.20,466.05 L147.18,464.46 L148.17,462.75 L149.15,460.91 L150.13,458.97 L151.12,456.90 L152.10,454.71 L153.08,452.41 L154.07,449.99 L155.05,447.45 L156.03,444.79 L157.02,442.01 L158.00,439.11 L158.98,436.10 L159.97,432.97 L160.95,429.72 L161.93,426.35 L162.92,422.86 L163.90,419.26 L164.88,415.53 L165.87,411.69 L166.85,407.73 L167.83,403.65 L168.82,399.45 L169.80,395.14 L170.78,390.70 L171.77,386.15 L172.75,381.48 L173.73,376.69 L174.72,371.78 L175.70,366.75 L176.68,361.61 L177.67,356.35 L178.65,350.97 L179.63,345.47 L180.62,339.85 L181.60,334.11 L182.58,328.26 L183.57,322.29 L184.55,316.19 L185.53,309.98 L186.52,303.66 L187.50,297.21" stroke="#d8283a" stroke-width="1.4" fill="none"/>
</g>
<rect x="71.5" y="354.5" width="114.0" height="133.0" fill="none" stroke="#111" stroke-width="1"/>
<text x="71.5" y="507.0" font-size="14" stroke="#000" stroke-width="0.4" text-anchor="middle" textLength="53.4" lengthAdjust="spacing">122.988</text>
<text x="128.5" y="507.0" font-size="14" stroke="#000" stroke-width="0.4" text-anchor="middle" textLength="45.2" lengthAdjust="spacing">122.99</text>
<text x="185.5" y="507.0" font-size="14" stroke="#000" stroke-width="0.4" text-anchor="middle" textLength="53.4" lengthAdjust="spacing">122.992</text>
<text x="66.0" y="359.5" font-size="14" stroke="#000" stroke-width="0.4" text-anchor="end">333</text>
<text x="66.0" y="403.8" font-size="14" stroke="#000" stroke-width="0.4" text-anchor="end">332</text>
<text x="66.0" y="448.2" font-size="14" stroke="#000" stroke-width="0.4" text-anchor="end">331</text>
<text x="66.0" y="492.5" font-size="14" stroke="#000" stroke-width="0.4" text-anchor="end">330</text>
<text x="128.5" y="527.8" font-size="16" stroke="#000" stroke-width="0.65" text-anchor="middle" textLength="91.5" lengthAdjust="spacing">Time [years]</text>
<g transform="translate(27.80,461.00) rotate(-90)" stroke="#000" stroke-width="0.45"><text x="0.1" y="0" font-size="14.5" font-style="italic" style="font-family:'Liberation Serif',serif">δ</text><text x="12.6" y="0" font-size="14.5">[R</text><text x="29.6" y="7.5" font-size="12" stroke-width="0.7" textLength="45" lengthAdjust="spacing">EARTH</text><text x="74.9" y="0" font-size="14.5">]</text></g>
<clipPath id="c4"><rect x="381.5" y="354.5" width="113.0" height="133.0"/></clipPath>
<path d="M395.50 354.5V487.5M409.50 354.5V487.5M423.50 354.5V487.5M452.50 354.5V487.5M466.50 354.5V487.5M480.50 354.5V487.5M381.5 360.50H494.5M381.5 365.50H494.5M381.5 370.50H494.5M381.5 376.50H494.5M381.5 386.50H494.5M381.5 392.50H494.5M381.5 397.50H494.5M381.5 402.50H494.5M381.5 413.50H494.5M381.5 418.50H494.5M381.5 424.50H494.5M381.5 429.50H494.5M381.5 440.50H494.5M381.5 445.50H494.5M381.5 450.50H494.5M381.5 456.50H494.5M381.5 466.50H494.5M381.5 472.50H494.5M381.5 477.50H494.5M381.5 482.50H494.5" stroke="#3a3a3a" stroke-width="1" stroke-dasharray="1.8 1.6" fill="none"/>
<path d="M438.50 354.5V487.5M381.5 381.50H494.5M381.5 408.50H494.5M381.5 434.50H494.5M381.5 461.50H494.5" stroke="#333" stroke-width="1" fill="none"/>
<g clip-path="url(#c4)">
<path d="M379.50,237.68 L380.48,242.16 L381.45,246.57 L382.43,250.91 L383.40,255.18 L384.38,259.38 L385.35,263.51 L386.32,267.57 L387.30,271.57 L388.27,275.49 L389.25,279.34 L390.23,283.13 L391.20,286.84 L392.18,290.48 L393.15,294.06 L394.12,297.56 L395.10,301.00 L396.07,304.36 L397.05,307.66 L398.02,310.89 L399.00,314.05 L399.98,317.13 L400.95,320.15 L401.93,323.10 L402.90,325.98 L403.88,328.79 L404.85,331.53 L405.82,334.20 L406.80,336.80 L407.77,339.33 L408.75,341.79 L409.73,344.18 L410.70,346.50 L411.68,348.76 L412.65,350.94 L413.62,353.05 L414.60,355.10 L415.57,357.07 L416.55,358.98 L417.52,360.81 L418.50,362.58 L419.48,364.27 L420.45,365.90 L421.43,367.46 L422.40,368.94 L423.38,370.36 L424.35,371.71 L425.32,372.99 L426.30,374.20 L427.27,375.34 L428.25,376.40 L429.23,377.40 L430.20,378.34 L431.18,379.20 L432.15,379.99 L433.12,380.71 L434.10,381.36 L435.07,381.94 L436.05,382.46 L437.02,382.90 L438.00,383.27 L438.98,383.58 L439.95,383.81 L440.93,383.98 L441.90,384.07 L442.88,384.10 L443.85,384.06 L444.82,383.94 L445.80,383.76 L446.77,383.51 L447.75,383.19 L448.73,382.79 L449.70,382.33 L450.68,381.80 L451.65,381.20 L452.62,380.53 L453.60,379.79 L454.57,378.98 L455.55,378.10 L456.52,377.16 L457.50,376.14 L458.48,375.05 L459.45,373.89 L460.43,372.67 L461.40,371.37 L462.38,370.00 L463.35,368.57 L464.32,367.06 L465.30,365.49 L466.27,363.84 L467.25,362.13 L468.23,360.35 L469.20,358.49 L470.18,356.57 L471.15,354.58 L472.12,352.52 L473.10,350.39 L474.07,348.19 L475.05,345.92 L476.02,343.58 L477.00,341.17 L477.98,338.69 L478.95,336.14 L479.93,333.52 L480.90,330.83 L481.88,328.07 L482.85,325.25 L483.82,322.35 L484.80,319.38 L485.77,316.35 L486.75,313.24 L487.73,310.07 L488.70,306.82 L489.68,303.51 L490.65,300.12 L491.62,296.67 L492.60,293.15 L493.57,289.56 L494.55,285.89 L495.52,282.16 L496.50,278.36" stroke="#e070e0" stroke-width="1.3" fill="none" stroke-opacity="0.12"/>
<path d="M379.50,237.68 L380.48,242.16 L381.45,246.57 L382.43,250.91 L383.40,255.18 L384.38,259.38 L385.35,263.51 L386.32,267.57 L387.30,271.57 L388.27,275.49 L389.25,279.34 L390.23,283.13 L391.20,286.84 L392.18,290.48 L393.15,294.06 L394.12,297.56 L395.10,301.00 L396.07,304.36 L397.05,307.66 L398.02,310.89 L399.00,314.05 L399.98,317.13 L400.95,320.15 L401.93,323.10 L402.90,325.98 L403.88,328.79 L404.85,331.53 L405.82,334.20 L406.80,336.80 L407.77,339.33 L408.75,341.79 L409.73,344.18 L410.70,346.50 L411.68,348.76 L412.65,350.94 L413.62,353.05 L414.60,355.10 L415.57,357.07 L416.55,358.98 L417.52,360.81 L418.50,362.58 L419.48,364.27 L420.45,365.90 L421.43,367.46 L422.40,368.94 L423.38,370.36 L424.35,371.71 L425.32,372.99 L426.30,374.20 L427.27,375.34 L428.25,376.40 L429.23,377.40 L430.20,378.34 L431.18,379.20 L432.15,379.99 L433.12,380.71 L434.10,381.36 L435.07,381.94 L436.05,382.46 L437.02,382.90 L438.00,383.27 L438.98,383.58 L439.95,383.81 L440.93,383.98 L441.90,384.07 L442.88,384.10 L443.85,384.06 L444.82,383.94 L445.80,383.76 L446.77,383.51 L447.75,383.19 L448.73,382.79 L449.70,382.33 L450.68,381.80 L451.65,381.20 L452.62,380.53 L453.60,379.79 L454.57,378.98 L455.55,378.10 L456.52,377.16 L457.50,376.14 L458.48,375.05 L459.45,373.89 L460.43,372.67 L461.40,371.37 L462.38,370.00 L463.35,368.57 L464.32,367.06 L465.30,365.49 L466.27,363.84 L467.25,362.13 L468.23,360.35 L469.20,358.49 L470.18,356.57 L471.15,354.58 L472.12,352.52 L473.10,350.39 L474.07,348.19 L475.05,345.92 L476.02,343.58 L477.00,341.17 L477.98,338.69 L478.95,336.14 L479.93,333.52 L480.90,330.83 L481.88,328.07 L482.85,325.25 L483.82,322.35 L484.80,319.38 L485.77,316.35 L486.75,313.24 L487.73,310.07 L488.70,306.82 L489.68,303.51 L490.65,300.12 L491.62,296.67 L492.60,293.15 L493.57,289.56 L494.55,285.89 L495.52,282.16 L496.50,278.36" stroke="#2a1e36" stroke-width="1.3" fill="none" stroke-dasharray="4.5 1.5"/>
<path d="M379.50,319.10 L380.48,323.70 L381.45,328.23 L382.43,332.69 L383.40,337.08 L384.38,341.40 L385.35,345.64 L386.32,349.82 L387.30,353.92 L388.27,357.96 L389.25,361.92 L390.23,365.81 L391.20,369.64 L392.18,373.39 L393.15,377.07 L394.12,380.68 L395.10,384.22 L396.07,387.68 L397.05,391.08 L398.02,394.41 L399.00,397.67 L399.98,400.85 L400.95,403.97 L401.93,407.01 L402.90,409.98 L403.88,412.89 L404.85,415.72 L405.82,418.48 L406.80,421.17 L407.77,423.79 L408.75,426.34 L409.73,428.81 L410.70,431.22 L411.68,433.56 L412.65,435.83 L413.62,438.02 L414.60,440.14 L415.57,442.20 L416.55,444.18 L417.52,446.09 L418.50,447.94 L419.48,449.71 L420.45,451.41 L421.43,453.04 L422.40,454.59 L423.38,456.08 L424.35,457.50 L425.32,458.85 L426.30,460.12 L427.27,461.33 L428.25,462.46 L429.23,463.53 L430.20,464.52 L431.18,465.44 L432.15,466.29 L433.12,467.07 L434.10,467.78 L435.07,468.42 L436.05,468.99 L437.02,469.49 L438.00,469.92 L438.98,470.27 L439.95,470.56 L440.93,470.77 L441.90,470.92 L442.88,470.99 L443.85,470.99 L444.82,470.92 L445.80,470.79 L446.77,470.58 L447.75,470.30 L448.73,469.95 L449.70,469.52 L450.68,469.03 L451.65,468.47 L452.62,467.83 L453.60,467.13 L454.57,466.35 L455.55,465.51 L456.52,464.59 L457.50,463.60 L458.48,462.55 L459.45,461.42 L460.43,460.22 L461.40,458.95 L462.38,457.61 L463.35,456.19 L464.32,454.71 L465.30,453.16 L466.27,451.53 L467.25,449.84 L468.23,448.07 L469.20,446.24 L470.18,444.33 L471.15,442.35 L472.12,440.31 L473.10,438.19 L474.07,436.00 L475.05,433.74 L476.02,431.40 L477.00,429.00 L477.98,426.53 L478.95,423.99 L479.93,421.37 L480.90,418.69 L481.88,415.93 L482.85,413.11 L483.82,410.21 L484.80,407.24 L485.77,404.20 L486.75,401.09 L487.73,397.91 L488.70,394.66 L489.68,391.34 L490.65,387.95 L491.62,384.49 L492.60,380.95 L493.57,377.35 L494.55,373.67 L495.52,369.93 L496.50,366.11" stroke="#d8283a" stroke-width="1.4" fill="none"/>
</g>
<rect x="381.5" y="354.5" width="113.0" height="133.0" fill="none" stroke="#111" stroke-width="1"/>
<text x="381.5" y="507.0" font-size="14" stroke="#000" stroke-width="0.4" text-anchor="middle" textLength="53.4" lengthAdjust="spacing">122.988</text>
<text x="438.0" y="507.0" font-size="14" stroke="#000" stroke-width="0.4" text-anchor="middle" textLength="45.2" lengthAdjust="spacing">122.99</text>
<text x="494.5" y="507.0" font-size="14" stroke="#000" stroke-width="0.4" text-anchor="middle" textLength="53.4" lengthAdjust="spacing">122.992</text>
<text x="376.0" y="359.5" font-size="14" stroke="#000" stroke-width="0.4" text-anchor="end">333</text>
<text x="376.0" y="386.1" font-size="14" stroke="#000" stroke-width="0.4" text-anchor="end">332</text>
<text x="376.0" y="412.7" font-size="14" stroke="#000" stroke-width="0.4" text-anchor="end">331</text>
<text x="376.0" y="439.3" font-size="14" stroke="#000" stroke-width="0.4" text-anchor="end">330</text>
<text x="376.0" y="465.9" font-size="14" stroke="#000" stroke-width="0.4" text-anchor="end">329</text>
<text x="376.0" y="492.5" font-size="14" stroke="#000" stroke-width="0.4" text-anchor="end">328</text>
<text x="438.0" y="527.8" font-size="16" stroke="#000" stroke-width="0.65" text-anchor="middle" textLength="91.5" lengthAdjust="spacing">Time [years]</text>
<g transform="translate(337.80,461.00) rotate(-90)" stroke="#000" stroke-width="0.45"><text x="0.1" y="0" font-size="14.5" font-style="italic" style="font-family:'Liberation Serif',serif">δ</text><text x="12.6" y="0" font-size="14.5">[R</text><text x="29.6" y="7.5" font-size="12" stroke-width="0.7" textLength="45" lengthAdjust="spacing">EARTH</text><text x="74.9" y="0" font-size="14.5">]</text></g>
<clipPath id="c5"><rect x="678.5" y="354.5" width="126.0" height="133.0"/></clipPath>
<path d="M691.50 354.5V487.5M703.50 354.5V487.5M716.50 354.5V487.5M728.50 354.5V487.5M754.50 354.5V487.5M766.50 354.5V487.5M779.50 354.5V487.5M791.50 354.5V487.5M678.5 366.50H804.5M678.5 377.50H804.5M678.5 388.50H804.5M678.5 410.50H804.5M678.5 421.50H804.5M678.5 432.50H804.5M678.5 454.50H804.5M678.5 465.50H804.5M678.5 476.50H804.5" stroke="#3a3a3a" stroke-width="1" stroke-dasharray="1.8 1.6" fill="none"/>
<path d="M741.50 354.5V487.5M678.5 399.50H804.5M678.5 443.50H804.5" stroke="#333" stroke-width="1" fill="none"/>
<g clip-path="url(#c5)">
<path d="M676.50,255.65 L677.58,260.32 L678.67,264.90 L679.75,269.39 L680.83,273.80 L681.92,278.11 L683.00,282.33 L684.08,286.46 L685.17,290.50 L686.25,294.45 L687.33,298.32 L688.42,302.09 L689.50,305.77 L690.58,309.36 L691.67,312.86 L692.75,316.27 L693.83,319.59 L694.92,322.82 L696.00,325.96 L697.08,329.01 L698.17,331.97 L699.25,334.84 L700.33,337.62 L701.42,340.31 L702.50,342.91 L703.58,345.42 L704.67,347.84 L705.75,350.17 L706.83,352.40 L707.92,354.55 L709.00,356.61 L710.08,358.58 L711.17,360.46 L712.25,362.25 L713.33,363.94 L714.42,365.55 L715.50,367.07 L716.58,368.50 L717.67,369.83 L718.75,371.08 L719.83,372.24 L720.92,373.31 L722.00,374.28 L723.08,375.17 L724.17,375.97 L725.25,376.67 L726.33,377.29 L727.42,377.82 L728.50,378.25 L729.58,378.60 L730.67,378.85 L731.75,379.02 L732.83,379.09 L733.92,379.08 L735.00,378.98 L736.08,378.78 L737.17,378.50 L738.25,378.12 L739.33,377.66 L740.42,377.10 L741.50,376.45 L742.58,375.72 L743.67,374.89 L744.75,373.98 L745.83,372.97 L746.92,371.88 L748.00,370.69 L749.08,369.41 L750.17,368.05 L751.25,366.59 L752.33,365.04 L753.42,363.41 L754.50,361.68 L755.58,359.86 L756.67,357.95 L757.75,355.96 L758.83,353.87 L759.92,351.69 L761.00,349.42 L762.08,347.06 L763.17,344.62 L764.25,342.08 L765.33,339.45 L766.42,336.73 L767.50,333.92 L768.58,331.02 L769.67,328.03 L770.75,324.96 L771.83,321.79 L772.92,318.53 L774.00,315.18 L775.08,311.74 L776.17,308.21 L777.25,304.59 L778.33,300.88 L779.42,297.08 L780.50,293.19 L781.58,289.21 L782.67,285.14 L783.75,280.98 L784.83,276.73 L785.92,272.38 L787.00,267.95 L788.08,263.43 L789.17,258.82 L790.25,254.12 L791.33,249.33 L792.42,244.45 L793.50,239.47 L794.58,234.41 L795.67,229.26 L796.75,224.02 L797.83,218.69 L798.92,213.26 L800.00,207.75 L801.08,202.15 L802.17,196.45 L803.25,190.67 L804.33,184.80 L805.42,178.83 L806.50,172.78" stroke="#e070e0" stroke-width="1.3" fill="none" stroke-opacity="0.12"/>
<path d="M676.50,255.65 L677.58,260.32 L678.67,264.90 L679.75,269.39 L680.83,273.80 L681.92,278.11 L683.00,282.33 L684.08,286.46 L685.17,290.50 L686.25,294.45 L687.33,298.32 L688.42,302.09 L689.50,305.77 L690.58,309.36 L691.67,312.86 L692.75,316.27 L693.83,319.59 L694.92,322.82 L696.00,325.96 L697.08,329.01 L698.17,331.97 L699.25,334.84 L700.33,337.62 L701.42,340.31 L702.50,342.91 L703.58,345.42 L704.67,347.84 L705.75,350.17 L706.83,352.40 L707.92,354.55 L709.00,356.61 L710.08,358.58 L711.17,360.46 L712.25,362.25 L713.33,363.94 L714.42,365.55 L715.50,367.07 L716.58,368.50 L717.67,369.83 L718.75,371.08 L719.83,372.24 L720.92,373.31 L722.00,374.28 L723.08,375.17 L724.17,375.97 L725.25,376.67 L726.33,377.29 L727.42,377.82 L728.50,378.25 L729.58,378.60 L730.67,378.85 L731.75,379.02 L732.83,379.09 L733.92,379.08 L735.00,378.98 L736.08,378.78 L737.17,378.50 L738.25,378.12 L739.33,377.66 L740.42,377.10 L741.50,376.45 L742.58,375.72 L743.67,374.89 L744.75,373.98 L745.83,372.97 L746.92,371.88 L748.00,370.69 L749.08,369.41 L750.17,368.05 L751.25,366.59 L752.33,365.04 L753.42,363.41 L754.50,361.68 L755.58,359.86 L756.67,357.95 L757.75,355.96 L758.83,353.87 L759.92,351.69 L761.00,349.42 L762.08,347.06 L763.17,344.62 L764.25,342.08 L765.33,339.45 L766.42,336.73 L767.50,333.92 L768.58,331.02 L769.67,328.03 L770.75,324.96 L771.83,321.79 L772.92,318.53 L774.00,315.18 L775.08,311.74 L776.17,308.21 L777.25,304.59 L778.33,300.88 L779.42,297.08 L780.50,293.19 L781.58,289.21 L782.67,285.14 L783.75,280.98 L784.83,276.73 L785.92,272.38 L787.00,267.95 L788.08,263.43 L789.17,258.82 L790.25,254.12 L791.33,249.33 L792.42,244.45 L793.50,239.47 L794.58,234.41 L795.67,229.26 L796.75,224.02 L797.83,218.69 L798.92,213.26 L800.00,207.75 L801.08,202.15 L802.17,196.45 L803.25,190.67 L804.33,184.80 L805.42,178.83 L806.50,172.78" stroke="#2a1e36" stroke-width="1.3" fill="none" stroke-dasharray="4.5 1.5"/>
<path d="M676.50,354.33 L677.58,359.23 L678.67,364.04 L679.75,368.75 L680.83,373.37 L681.92,377.90 L683.00,382.34 L684.08,386.69 L685.17,390.95 L686.25,395.11 L687.33,399.19 L688.42,403.17 L689.50,407.06 L690.58,410.86 L691.67,414.57 L692.75,418.18 L693.83,421.71 L694.92,425.14 L696.00,428.48 L697.08,431.73 L698.17,434.89 L699.25,437.96 L700.33,440.93 L701.42,443.81 L702.50,446.61 L703.58,449.31 L704.67,451.92 L705.75,454.43 L706.83,456.86 L707.92,459.19 L709.00,461.44 L710.08,463.59 L711.17,465.65 L712.25,467.62 L713.33,469.49 L714.42,471.28 L715.50,472.97 L716.58,474.57 L717.67,476.08 L718.75,477.50 L719.83,478.83 L720.92,480.06 L722.00,481.21 L723.08,482.26 L724.17,483.22 L725.25,484.09 L726.33,484.87 L727.42,485.56 L728.50,486.15 L729.58,486.66 L730.67,487.07 L731.75,487.39 L732.83,487.62 L733.92,487.75 L735.00,487.80 L736.08,487.75 L737.17,487.62 L738.25,487.39 L739.33,487.07 L740.42,486.66 L741.50,486.15 L742.58,485.56 L743.67,484.87 L744.75,484.09 L745.83,483.22 L746.92,482.26 L748.00,481.21 L749.08,480.06 L750.17,478.83 L751.25,477.50 L752.33,476.08 L753.42,474.57 L754.50,472.97 L755.58,471.28 L756.67,469.49 L757.75,467.62 L758.83,465.65 L759.92,463.59 L761.00,461.44 L762.08,459.19 L763.17,456.86 L764.25,454.43 L765.33,451.92 L766.42,449.31 L767.50,446.61 L768.58,443.81 L769.67,440.93 L770.75,437.96 L771.83,434.89 L772.92,431.73 L774.00,428.48 L775.08,425.14 L776.17,421.71 L777.25,418.18 L778.33,414.57 L779.42,410.86 L780.50,407.06 L781.58,403.17 L782.67,399.19 L783.75,395.11 L784.83,390.95 L785.92,386.69 L787.00,382.34 L788.08,377.90 L789.17,373.37 L790.25,368.75 L791.33,364.04 L792.42,359.23 L793.50,354.33 L794.58,349.34 L795.67,344.26 L796.75,339.09 L797.83,333.83 L798.92,328.47 L800.00,323.02 L801.08,317.49 L802.17,311.86 L803.25,306.14 L804.33,300.32 L805.42,294.42 L806.50,288.42" stroke="#d8283a" stroke-width="1.4" fill="none"/>
</g>
<rect x="678.5" y="354.5" width="126.0" height="133.0" fill="none" stroke="#111" stroke-width="1"/>
<text x="678.5" y="507.0" font-size="14" stroke="#000" stroke-width="0.4" text-anchor="middle" textLength="53.4" lengthAdjust="spacing">122.988</text>
<text x="741.5" y="507.0" font-size="14" stroke="#000" stroke-width="0.4" text-anchor="middle" textLength="61.6" lengthAdjust="spacing">122.9905</text>
<text x="804.5" y="507.0" font-size="14" stroke="#000" stroke-width="0.4" text-anchor="middle" textLength="53.4" lengthAdjust="spacing">122.993</text>
<text x="673.0" y="359.5" font-size="14" stroke="#000" stroke-width="0.4" text-anchor="end">333</text>
<text x="673.0" y="403.8" font-size="14" stroke="#000" stroke-width="0.4" text-anchor="end">331</text>
<text x="673.0" y="448.2" font-size="14" stroke="#000" stroke-width="0.4" text-anchor="end">329</text>
<text x="673.0" y="492.5" font-size="14" stroke="#000" stroke-width="0.4" text-anchor="end">327</text>
<text x="741.5" y="527.8" font-size="16" stroke="#000" stroke-width="0.65" text-anchor="middle" textLength="91.5" lengthAdjust="spacing">Time [years]</text>
<g transform="translate(634.80,461.00) rotate(-90)" stroke="#000" stroke-width="0.45"><text x="0.1" y="0" font-size="14.5" font-style="italic" style="font-family:'Liberation Serif',serif">δ</text><text x="12.6" y="0" font-size="14.5">[R</text><text x="29.6" y="7.5" font-size="12" stroke-width="0.7" textLength="45" lengthAdjust="spacing">EARTH</text><text x="74.9" y="0" font-size="14.5">]</text></g>
<g fill="#333"><text x="89.2" y="557.2" font-size="21">(</text><text transform="translate(102.6,557.2) scale(1.22,1)" font-size="16.5" text-anchor="middle">a</text><text x="107.10000000000001" y="557.2" font-size="21">)</text></g>
<g fill="#333"><text x="398.6" y="557.2" font-size="21">(</text><text transform="translate(413,557.2) scale(1.22,1)" font-size="16.5" text-anchor="middle">b</text><text x="417.59999999999997" y="557.2" font-size="21">)</text></g>
<g fill="#333"><text x="709.3" y="557.2" font-size="21">(</text><text transform="translate(722.5,557.2) scale(1.22,1)" font-size="16.5" text-anchor="middle">c</text><text x="725.7" y="557.2" font-size="21">)</text></g>
</svg></body></html>
